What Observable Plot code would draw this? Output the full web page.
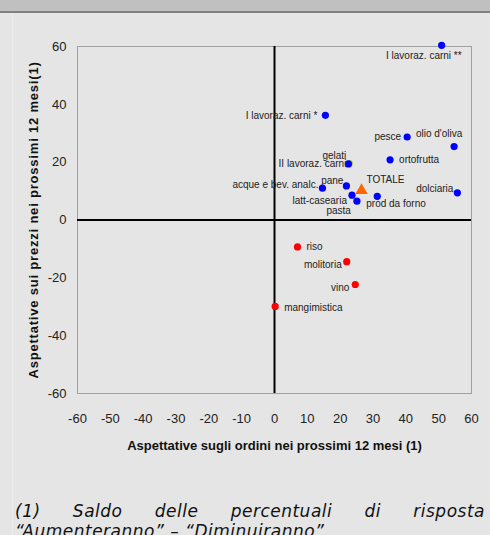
<!DOCTYPE html>
<html><head><meta charset="utf-8">
<script src="https://cdn.jsdelivr.net/npm/d3@7"></script>
<script src="https://cdn.jsdelivr.net/npm/@observablehq/plot@0.6"></script>
<style>
html,body{margin:0;padding:0;background:#e5e5e5;width:490px;height:535px;overflow:hidden;position:relative}
#hdr{position:absolute;left:0;top:0;width:490px;height:11px;background:#c0c0c0;border-bottom:2px solid #808080}
#vline{position:absolute;left:12px;top:13px;width:1px;height:522px;background:#ececec}
#chart{position:absolute;left:0;top:0}
#cap{position:absolute;left:15px;top:501px;width:470px;font-family:"DejaVu Sans",Verdana,sans-serif;font-style:italic;font-size:17px;line-height:20px;letter-spacing:0.5px;text-align:justify;color:#111}
</style></head><body>
<div id="hdr"></div><div id="vline"></div>
<div id="chart"></div>
<div id="cap"></div>
<script>
const sectors = ["I lavoraz. carni **","I lavoraz. carni *","pesce","olio d'oliva","ortofrutta","gelati","II lavoraz. carni","pane","acque e bev. analc.","latt-casearia","pasta","TOTALE","prod da forno","dolciaria","riso","molitoria","vino","mangimistica"];
const orders = [50.9,15.5,40.4,54.7,35.2,22.8,22.5,21.9,14.6,23.6,25.1,26.5,31.3,55.7,7.0,22.0,24.6,0.2];
const prices = [60.4,36.2,28.7,25.4,20.8,19.5,19.4,11.8,11.0,8.6,6.5,10.2,8.2,9.4,-9.3,-14.4,-22.3,-29.9];
const xTicks = [-60,-50,-40,-30,-20,-10,0,10,20,30,40,50,60];
const yTicks = [-60,-40,-20,0,20,40,60];
const xTitle = "Aspettative sugli ordini nei prossimi 12 mesi (1)";
const yTitle = "Aspettative sui prezzi nei prossimi 12 mesi(1)";
const note = "(1) Saldo delle percentuali di risposta “Aumenteranno” – “Diminuiranno”";

const rows = sectors.map((name, i) => ({name, x: orders[i], y: prices[i]}));

// label placement (style): [textAnchor, dx, dy]
const placement = {
  "I lavoraz. carni **": ["end", 20, 10],
  "I lavoraz. carni *": ["end", -8, 0],
  "pesce": ["end", -6, 0],
  "olio d'oliva": ["middle", -15, -13],
  "ortofrutta": ["start", 9, 0],
  "gelati": ["middle", -15, -8],
  "II lavoraz. carni": ["end", -2, 0],
  "pane": ["end", -3, -5],
  "acque e bev. analc.": ["end", -4, -3],
  "TOTALE": ["start", 5, -11],
  "dolciaria": ["end", -4, -4],
  "latt-casearia": ["end", -5, 6],
  "pasta": ["end", -6, 10],
  "prod da forno": ["start", -11, 8],
  "riso": ["start", 9, 0],
  "molitoria": ["end", -5, 3],
  "vino": ["end", -6, 3],
  "mangimistica": ["start", 9, 1]
};
const colorOf = d => d.name === "gelati" ? "#9acd32" : d.y < 0 ? "#ff0000" : "#0000ff";

const labelMarks = rows.map(r => {
  const [a, dx, dy] = placement[r.name];
  return Plot.text([r], {x: "x", y: "y", text: "name", textAnchor: a, dx, dy, fontSize: 10, fill: "#222"});
});

const plot = Plot.plot({
  width: 490, height: 470,
  marginTop: 46, marginBottom: 77, marginLeft: 77, marginRight: 19,
  style: {background: "transparent", fontFamily: "'Liberation Sans', Arial, sans-serif", fontSize: "13px", color: "#222"},
  x: {domain: [-60, 60], ticks: xTicks, tickSize: 0, tickPadding: 20, label: null, tickFormat: d => String(d)},
  y: {domain: [-60, 60], ticks: yTicks, tickSize: 0, tickPadding: 11, label: null, tickFormat: d => String(d)},
  color: {type: "identity"},
  marks: [
    Plot.frame({stroke: "#a0a0a0"}),
    Plot.ruleX([0], {stroke: "#000", strokeWidth: 2}),
    Plot.ruleY([0], {stroke: "#000", strokeWidth: 2}),
    Plot.dot(rows.filter(d => d.name !== "TOTALE"), {x: "x", y: "y", r: 3.6, fill: colorOf, stroke: null}),
    Plot.dot(rows.filter(d => d.name === "TOTALE"), {x: "x", y: "y", r: 4.6, symbol: "triangle", fill: "#ff6600", stroke: null}),
    ...labelMarks,
    Plot.text([xTitle], {frameAnchor: "bottom", text: d => d, dy: 52, textAnchor: "middle", lineAnchor: "middle", fontWeight: "bold", fontSize: 13, fill: "#111"}),
    Plot.text([yTitle], {frameAnchor: "left", text: d => d, dx: -44, rotate: -90, textAnchor: "middle", lineAnchor: "middle", fontWeight: "bold", fontSize: 13, fill: "#111"})
  ]
});
d3.select(plot).selectAll("text").filter(function(){ return this.textContent === yTitle; }).attr("letter-spacing", "0.8px");
document.getElementById("chart").appendChild(plot);
document.getElementById("cap").textContent = note;
</script>
</body></html>
